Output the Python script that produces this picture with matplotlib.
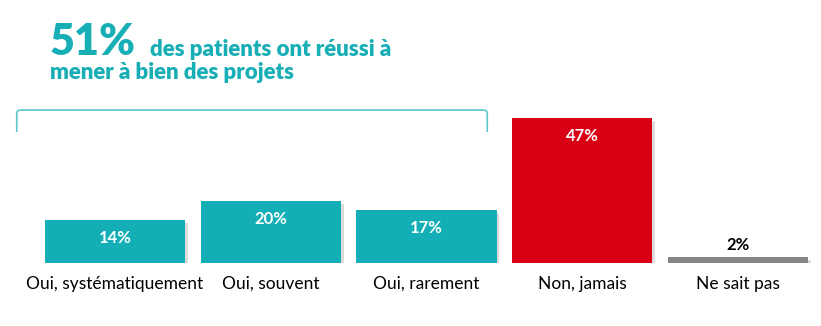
import matplotlib
matplotlib.use("Agg")
import matplotlib.pyplot as plt
import matplotlib.patheffects as pe
from matplotlib.path import Path
from matplotlib.patches import PathPatch

categories = ["Oui, systématiquement", "Oui, souvent", "Oui, rarement", "Non, jamais", "Ne sait pas"]
values = [14, 20, 17, 47, 2]
colors = ["#14AFB6", "#14AFB6", "#14AFB6", "#D90016", "#858585"]
labels = ["14%", "20%", "17%", "47%", "2%"]

TEAL = "#17AEB5"
plt.rcParams['font.family'] = ['Lato', 'DejaVu Sans']

W, H = 821, 326
fig = plt.figure(figsize=(W / 100, H / 100), dpi=100)
ax = fig.add_axes([37 / W, (H - 263) / H, (816 - 37) / W, (263 - 108.5) / H])

x = range(len(values))
bars = ax.bar(x, values, width=0.9, color=colors, zorder=2)
for b in bars:
    b.set_path_effects([pe.SimplePatchShadow(offset=(2, -2), shadow_rgbFace="#999999", alpha=0.35),
                        pe.Normal()])

# étiquettes de valeur
for i, (v, lab) in enumerate(zip(values, labels)):
    if v >= 5:
        ax.text(i, v - 5.8, lab, ha="center", va="center", color="white",
                fontsize=12, fontweight="bold")
    else:
        ax.text(i, v + 1.2, lab, ha="center", va="bottom", color="black",
                fontsize=12, fontweight="bold")

ax.set_xlim(-0.5, len(values) - 0.5)
ax.set_ylim(0, 50)
ax.set_xticks(list(x))
ax.set_xticklabels(categories, fontsize=12.5)
ax.tick_params(axis="x", length=0, pad=9)
ax.set_yticks([])
for s in ax.spines.values():
    s.set_visible(False)

# accolade au-dessus des trois "Oui"
x0, x1, ytop, ybot, r = -0.63, 2.39, 49.5, 42.4, 0.03
verts = [(x0, ybot), (x0, ytop - 1.0), (x0, ytop), (x0 + r, ytop),
         (x1 - r, ytop), (x1, ytop), (x1, ytop - 1.0), (x1, ybot)]
codes = [Path.MOVETO, Path.LINETO, Path.CURVE3, Path.CURVE3,
         Path.LINETO, Path.CURVE3, Path.CURVE3, Path.LINETO]
ax.add_patch(PathPatch(Path(verts, codes), fill=False, edgecolor="#5EC6CA",
                       lw=1.2, clip_on=False))

fig.text(50 / W, 1 - 42 / H, "51%", color=TEAL, fontsize=31, fontweight="heavy",
         va="center", ha="left")
fig.text(150 / W, 1 - 50 / H, "des patients ont réussi à", color=TEAL, fontsize=16,
         fontweight="heavy", va="center", ha="left")
fig.text(50 / W, 1 - 72 / H, "mener à bien des projets", color=TEAL, fontsize=16,
         fontweight="heavy", va="center", ha="left")

fig.savefig("out.png", dpi=100)
